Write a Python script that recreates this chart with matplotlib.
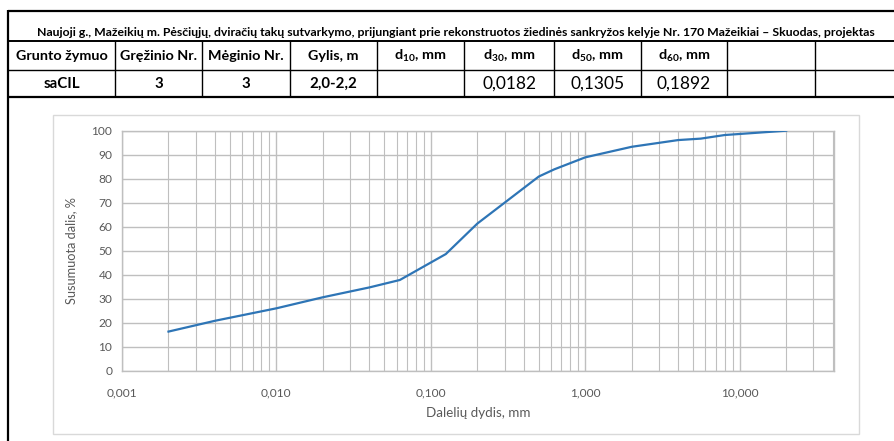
import matplotlib
matplotlib.use("Agg")
import matplotlib.pyplot as plt
from matplotlib.lines import Line2D
from matplotlib.patches import Rectangle
from matplotlib.ticker import FixedLocator, LogLocator, NullFormatter

# ---- data ----
title = ("Naujoji g., Mažeikių m. Pėsčiųjų, dviračių takų sutvarkymo, prijungiant prie "
         "rekonstruotos žiedinės sankryžos kelyje Nr. 170 Mažeikiai – Skuodas, projektas")
headers = ["Grunto žymuo", "Gręžinio Nr.", "Mėginio Nr.", "Gylis, m",
           r"d$_{\mathregular{10}}$, mm", r"d$_{\mathregular{30}}$, mm",
           r"d$_{\mathregular{50}}$, mm", r"d$_{\mathregular{60}}$, mm", "", ""]
row = ["saCIL", "3", "3", "2,0-2,2", "", "0,0182", "0,1305", "0,1892", "", ""]

size_mm = [0.002, 0.004, 0.01, 0.02, 0.04, 0.063, 0.125, 0.2, 0.5, 0.63,
           1.0, 2.0, 4.0, 5.6, 8.0, 20.0]
passing = [16.3, 20.8, 26.0, 30.6, 34.7, 37.8, 48.6, 61.3, 80.9, 83.9,
           88.9, 93.3, 96.1, 96.7, 98.2, 100.0]

xtick_vals = [0.001, 0.01, 0.1, 1, 10]
xtick_labels = ["0,001", "0,010", "0,100", "1,000", "10,000"]
ytick_vals = list(range(0, 101, 10))

W, H = 894, 441
fig = plt.figure(figsize=(W / 100, H / 100), dpi=100)
fig.patch.set_facecolor("white")

def fx(px):
    return px / W

def fy(py):
    return 1 - py / H

def hline(x0, x1, y, lw):
    fig.add_artist(Line2D([fx(x0), fx(x1)], [fy(y), fy(y)], color="black", lw=lw,
                          transform=fig.transFigure, solid_capstyle="butt"))

def vline(x, y0, y1, lw):
    fig.add_artist(Line2D([fx(x), fx(x)], [fy(y0), fy(y1)], color="black", lw=lw,
                          transform=fig.transFigure, solid_capstyle="butt"))

# ---- table ----
cols = [8, 115, 201.7, 290, 376.7, 464, 554, 640.7, 727.3, 815, 900]
hline(8, 900, 10.5, 1.6)
hline(8, 900, 40.7, 1.4)
hline(8, 900, 70, 1.0)
hline(8, 900, 97, 1.6)
vline(8, 10, 441, 1.6)
for c in cols[1:-1]:
    vline(c, 40.7, 97, 1.0)

fig.text(fx(456), fy(32.5), title, ha="center", va="center", fontsize=8.85,
         fontweight="bold", family="Lato")
for i, (h, r) in enumerate(zip(headers, row)):
    cx = (cols[i] + cols[i + 1]) / 2
    if h:
        fig.text(fx(cx), fy(55.5), h, ha="center", va="center", fontsize=10.4,
                 fontweight="bold", family="Lato")
    if r:
        fig.text(fx(cx), fy(84), r, ha="center", va="center",
                 fontsize=10.8 if i < 4 else 12.5,
                 fontweight="bold" if i < 4 else "normal", family="Lato")

# ---- chart area ----
fig.add_artist(Rectangle((fx(53), fy(434)), fx(859) - fx(53), fy(115) - fy(434),
                         transform=fig.transFigure, facecolor="white",
                         edgecolor="#D9D9D9", lw=1.0, zorder=-10))

ax_l, ax_r, ax_t, ax_b = 122, 833.5, 130.7, 370.7
ax = fig.add_axes([fx(ax_l), fy(ax_b), fx(ax_r) - fx(ax_l), fy(ax_t) - fy(ax_b)])
ax.set_zorder(5)
ax.patch.set_alpha(0)
ax.set_xscale("log")
ax.set_xlim(0.001, 40.5)
ax.set_ylim(0, 100)

grid_c = "#BFBFBF"
ax.xaxis.set_major_locator(FixedLocator(xtick_vals))
ax.set_xticks(xtick_vals)
ax.set_xticklabels(xtick_labels)
ax.xaxis.set_minor_locator(LogLocator(base=10, subs=range(2, 10), numticks=20))
ax.xaxis.set_minor_formatter(NullFormatter())
ax.set_yticks(ytick_vals)
ax.grid(True, which="major", color=grid_c, lw=1.0)
ax.grid(True, which="minor", axis="x", color=grid_c, lw=0.8)
ax.tick_params(which="both", length=0, labelsize=8.6, labelcolor="#595959")
ax.tick_params(axis="x", pad=12)
ax.tick_params(axis="y", pad=7)
for lab in ax.get_xticklabels() + ax.get_yticklabels():
    lab.set_family("Lato")
for s in ax.spines.values():
    s.set_color(grid_c)
    s.set_linewidth(1.0)

ax.plot(size_mm, passing, color="#2E75B6", lw=1.6, solid_joinstyle="round", zorder=3)

ax.set_ylabel("Susumuota dalis, %", fontsize=9.2, color="#595959", family="Lato", labelpad=10)
ax.set_xlabel("Dalelių dydis, mm", fontsize=9.6, color="#595959", family="Lato", labelpad=6)

fig.savefig("out.png", dpi=100, facecolor="white")
